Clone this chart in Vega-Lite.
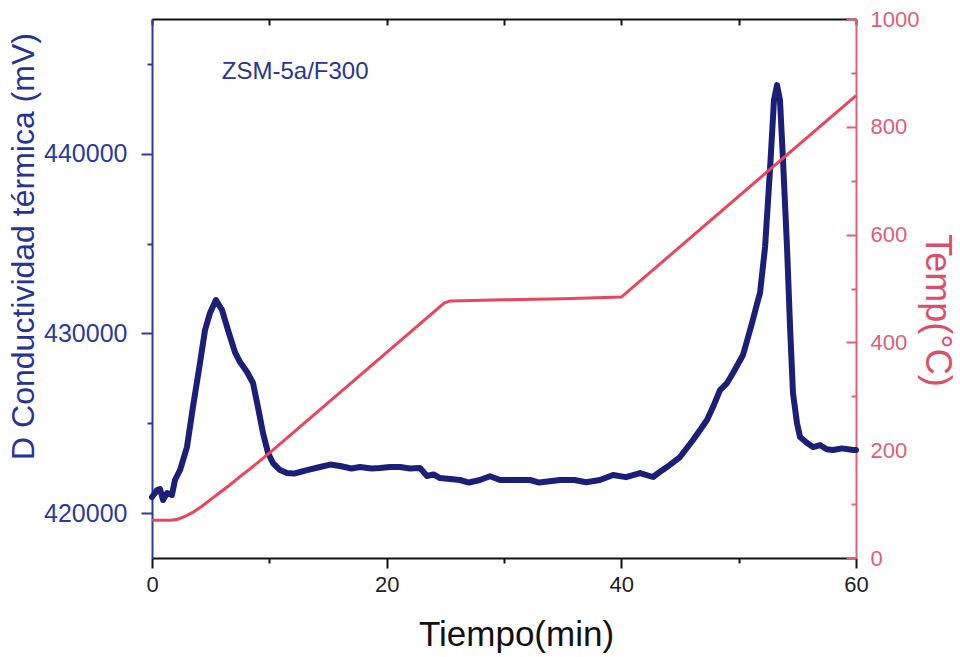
{
  "$schema": "https://vega.github.io/schema/vega-lite/v6.json",
  "width": 704,
  "height": 539,
  "autosize": {"type": "none"},
  "padding": {"left": 152, "top": 19, "right": 104, "bottom": 99},
  "background": "white",
  "config": {"view": {"stroke": null}, "font": "Liberation Sans"},
  "datasets": {
    "cond": [
      {"t": 0, "v": 420895}, {"t": 0.26, "v": 421117}, {"t": 0.43, "v": 421284}, {"t": 0.68, "v": 421340},
      {"t": 0.94, "v": 420728}, {"t": 1.28, "v": 421117}, {"t": 1.7, "v": 421006}, {"t": 1.96, "v": 421841},
      {"t": 2.39, "v": 422397}, {"t": 2.98, "v": 423677}, {"t": 3.49, "v": 425903}, {"t": 4.09, "v": 428352},
      {"t": 4.52, "v": 430188}, {"t": 4.94, "v": 431134}, {"t": 5.45, "v": 431858}, {"t": 5.97, "v": 431301},
      {"t": 6.48, "v": 430188}, {"t": 7.07, "v": 428964}, {"t": 7.5, "v": 428407}, {"t": 8.1, "v": 427851},
      {"t": 8.61, "v": 427239}, {"t": 9.03, "v": 425903}, {"t": 9.46, "v": 424456}, {"t": 9.89, "v": 423343},
      {"t": 10.31, "v": 422787}, {"t": 10.91, "v": 422397}, {"t": 11.51, "v": 422230}, {"t": 12.1, "v": 422200},
      {"t": 12.61, "v": 422286}, {"t": 13.3, "v": 422400}, {"t": 14.32, "v": 422564}, {"t": 15.2, "v": 422700},
      {"t": 16.02, "v": 422620}, {"t": 17.0, "v": 422480}, {"t": 17.73, "v": 422564}, {"t": 18.7, "v": 422480},
      {"t": 19.43, "v": 422508}, {"t": 20.3, "v": 422560}, {"t": 21.14, "v": 422564}, {"t": 22.0, "v": 422480},
      {"t": 22.84, "v": 422508}, {"t": 23.44, "v": 422063}, {"t": 24.0, "v": 422150}, {"t": 24.55, "v": 421952},
      {"t": 25.4, "v": 421900}, {"t": 26.25, "v": 421841}, {"t": 27.0, "v": 421700}, {"t": 27.95, "v": 421841},
      {"t": 28.8, "v": 422050}, {"t": 29.66, "v": 421841}, {"t": 31.0, "v": 421841}, {"t": 32.22, "v": 421841},
      {"t": 33.0, "v": 421700}, {"t": 34.77, "v": 421841}, {"t": 36.0, "v": 421841}, {"t": 37.0, "v": 421720},
      {"t": 38.18, "v": 421841}, {"t": 39.29, "v": 422119}, {"t": 40.4, "v": 422000}, {"t": 41.59, "v": 422230},
      {"t": 42.7, "v": 422008}, {"t": 43.3, "v": 422300}, {"t": 43.89, "v": 422564}, {"t": 45.0, "v": 423121},
      {"t": 46.11, "v": 424067}, {"t": 46.71, "v": 424623}, {"t": 47.3, "v": 425180}, {"t": 47.81, "v": 425903},
      {"t": 48.41, "v": 426849}, {"t": 49.01, "v": 427239}, {"t": 49.52, "v": 427795}, {"t": 50.37, "v": 428797},
      {"t": 51.14, "v": 430578}, {"t": 51.65, "v": 431858}, {"t": 51.82, "v": 432247}, {"t": 52.25, "v": 434807},
      {"t": 52.67, "v": 439092}, {"t": 53.01, "v": 442988}, {"t": 53.27, "v": 443822}, {"t": 53.52, "v": 442988},
      {"t": 53.78, "v": 439649}, {"t": 54.12, "v": 434807}, {"t": 54.38, "v": 430355}, {"t": 54.63, "v": 426682},
      {"t": 54.97, "v": 425013}, {"t": 55.23, "v": 424234}, {"t": 55.83, "v": 423900}, {"t": 56.34, "v": 423677},
      {"t": 56.93, "v": 423789}, {"t": 57.5, "v": 423550}, {"t": 58.04, "v": 423510}, {"t": 58.8, "v": 423600},
      {"t": 59.75, "v": 423510}, {"t": 60.0, "v": 423510}
    ],
    "temp": [
      {"t": 0, "T": 70}, {"t": 1.6, "T": 70}, {"t": 2.2, "T": 72}, {"t": 2.8, "T": 77}, {"t": 3.5, "T": 85},
      {"t": 4.2, "T": 95}, {"t": 4.9, "T": 107}, {"t": 5.7, "T": 120}, {"t": 6.6, "T": 135}, {"t": 7.5, "T": 151},
      {"t": 8.5, "T": 168}, {"t": 9.4, "T": 184}, {"t": 10.3, "T": 200},
      {"t": 24.9, "T": 473}, {"t": 25.4, "T": 477}, {"t": 30.0, "T": 479}, {"t": 35.0, "T": 481},
      {"t": 40.0, "T": 484}, {"t": 60.0, "T": 858}
    ]
  },
  "layer": [
    {
      "layer": [
        {
          "data": {"name": "cond"},
          "mark": {"type": "line", "color": "#1c1f78", "strokeWidth": 6, "strokeJoin": "round", "strokeCap": "round"},
          "encoding": {
            "x": {
              "field": "t", "type": "quantitative",
              "scale": {"domain": [0, 60], "nice": false, "zero": false},
              "axis": {
                "orient": "bottom", "title": "Tiempo(min)", "grid": false,
                "values": [0, 10, 20, 30, 40, 50, 60],
                "labelExpr": "datum.value % 20 === 0 ? datum.label : ''",
                "tickSize": {"condition": {"test": "datum.value % 20 === 0", "value": 10}, "value": 5},
                "tickColor": "#111111", "tickWidth": 2, "domainColor": "#111111", "domainWidth": 2,
                "labelFontSize": 22, "labelColor": "#222222", "labelPadding": 6, "labelFlush": false, "labelOverlap": false,
                "labelFont": "Liberation Sans",
                "titleFont": "Liberation Sans", "titleFontSize": 35, "titleFontWeight": "normal", "titleColor": "#111111",
                "titleX": 364, "titleY": 87, "titleBaseline": "alphabetic", "titleAlign": "center"
              }
            },
            "y": {
              "field": "v", "type": "quantitative",
              "scale": {"domain": [417500, 447500], "nice": false, "zero": false},
              "axis": {
                "orient": "left", "title": "D Conductividad térmica (mV)", "grid": false,
                "values": [420000, 425000, 430000, 435000, 440000, 445000],
                "format": "d",
                "labelExpr": "datum.value % 10000 === 0 ? datum.label : ''",
                "tickSize": {"condition": {"test": "datum.value % 10000 === 0", "value": 11}, "value": 5},
                "tickColor": "#2d3a96", "tickWidth": 2, "domainColor": "#2d3a96", "domainWidth": 2,
                "labelColor": "#2d3a96", "labelFontSize": 25, "labelPadding": 14, "labelFlush": false, "labelOverlap": false,
                "labelFont": "Liberation Sans",
                "titleFont": "Liberation Sans", "titleFontSize": 32, "titleFontWeight": "normal", "titleColor": "#27348f",
                "titleX": -119, "titleY": 227, "titleBaseline": "alphabetic", "titleAlign": "center", "titleAngle": -90
              }
            }
          }
        },
        {
          "data": {"values": [{"t": 12.2, "v": 444546, "label": "ZSM-5a/F300"}]},
          "mark": {"type": "text", "font": "Liberation Sans", "fontSize": 24, "color": "#2a3590", "align": "center", "baseline": "middle"},
          "encoding": {
            "x": {"field": "t", "type": "quantitative"},
            "y": {"field": "v", "type": "quantitative"},
            "text": {"field": "label"}
          }
        }
      ]
    },
    {
      "data": {"name": "temp"},
      "mark": {"type": "line", "color": "#e8455e", "strokeWidth": 3},
      "encoding": {
        "x": {
          "field": "t", "type": "quantitative",
          "axis": {
            "orient": "top", "title": null, "labels": false, "grid": false,
            "values": [0, 10, 20, 30, 40, 50, 60],
            "tickSize": -6, "tickColor": "#111111", "tickWidth": 2, "domainColor": "#111111", "domainWidth": 2
          }
        },
        "y": {
          "field": "T", "type": "quantitative",
          "scale": {"domain": [0, 1000], "nice": false, "zero": false},
          "axis": {
            "orient": "right", "title": "Temp(°C)", "grid": false,
            "values": [0, 100, 200, 300, 400, 500, 600, 700, 800, 900, 1000],
            "format": "d",
            "labelExpr": "datum.value % 200 === 0 ? datum.label : ''",
            "tickSize": {"condition": {"test": "datum.value % 200 === 0", "value": -10}, "value": -5},
            "tickColor": "#e0607a", "tickWidth": 2, "domainColor": "#e0607a", "domainWidth": 2,
            "labelColor": "#d9607a", "labelFontSize": 22, "labelPadding": 24, "labelFlush": false, "labelOverlap": false,
            "labelFont": "Liberation Sans",
            "titleFont": "Liberation Sans", "titleFontSize": 36, "titleFontWeight": "normal", "titleColor": "#d94f6a",
            "titleX": 69, "titleY": 291, "titleAngle": 90, "titleBaseline": "alphabetic", "titleAlign": "center"
          }
        }
      }
    }
  ],
  "resolve": {"scale": {"y": "independent"}, "axis": {"x": "independent", "y": "independent"}}
}
